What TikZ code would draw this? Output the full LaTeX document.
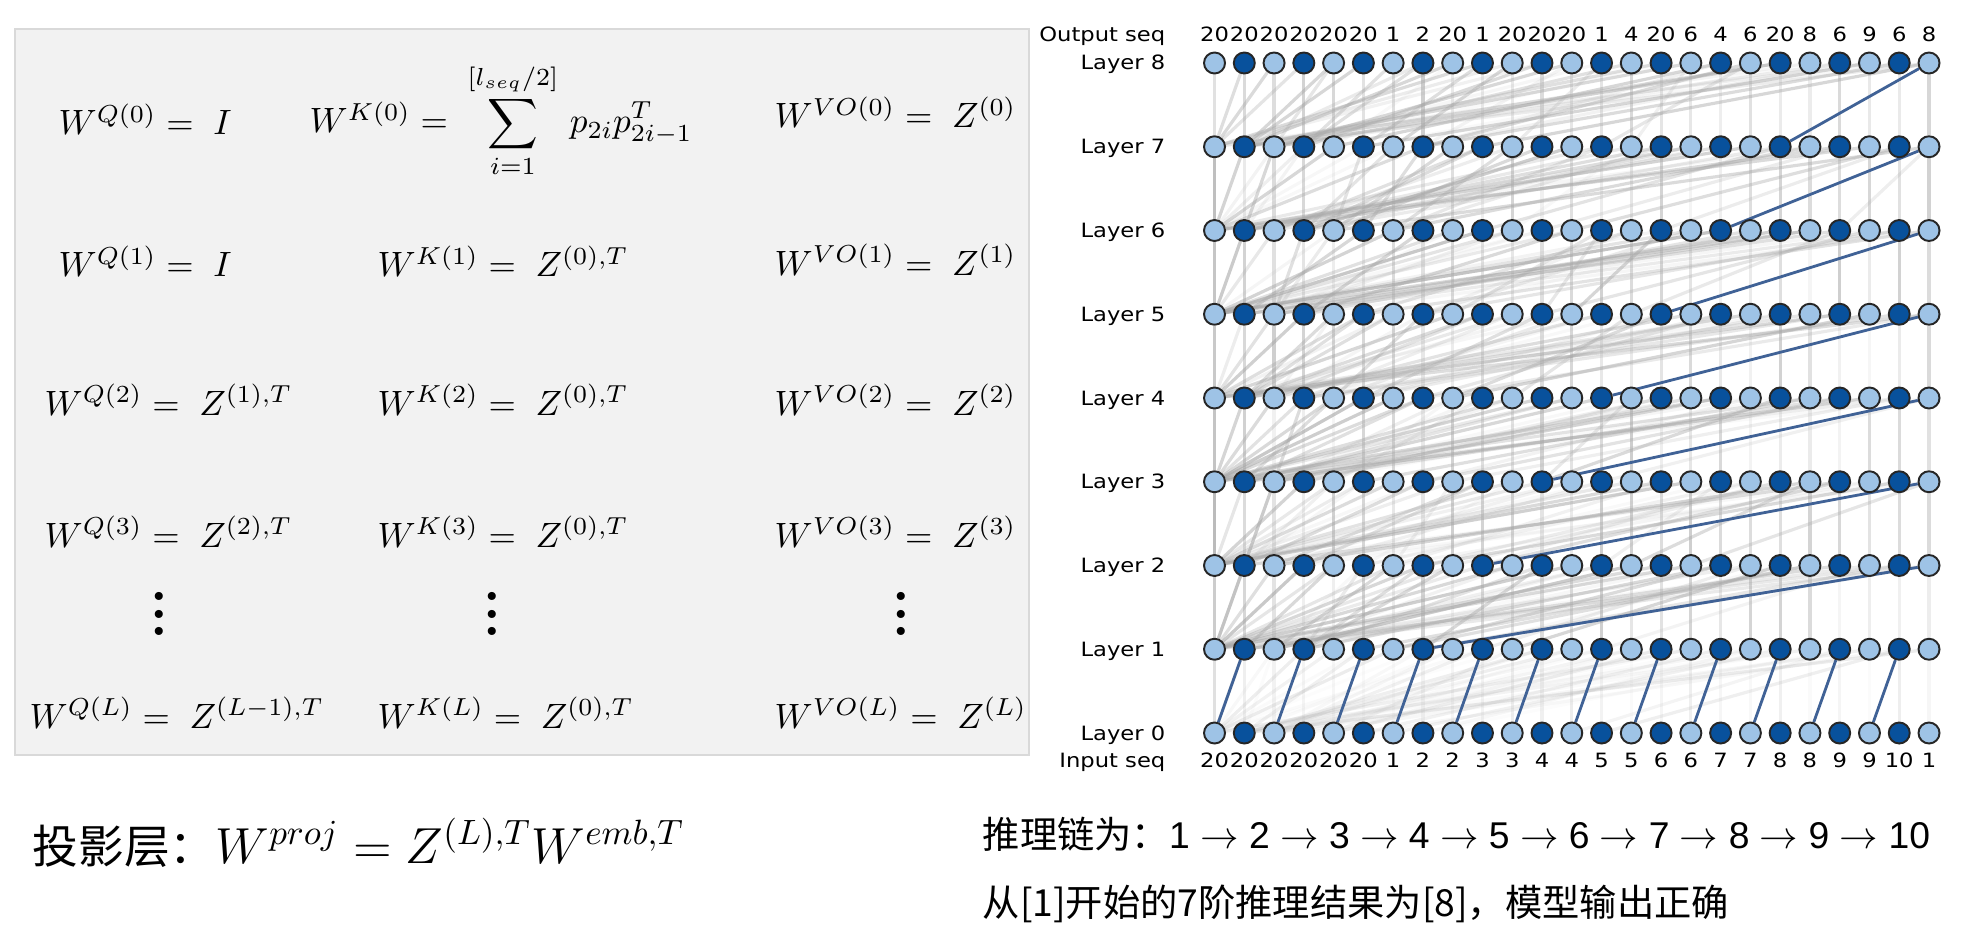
\documentclass[tikz,border=0pt]{standalone}
\usepackage{fontspec}
\newfontfamily\cjkfont{Noto Sans CJK SC}
\newfontfamily\sansfont{Liberation Sans}
\newfontfamily\mplfont[FakeStretch=1.15]{DejaVu Sans}
\definecolor{nodelight}{RGB}{158,195,230}
\definecolor{nodedark}{RGB}{8,81,156}
\definecolor{chainblue}{RGB}{64,98,150}
\definecolor{boxfill}{RGB}{242,242,242}
\definecolor{boxline}{RGB}{217,217,217}
\pgfdeclarelayer{edges}
\pgfsetlayers{edges,main}
\newcommand{\tallvdots}{\vbox{\baselineskip=5pt\lineskiplimit=0pt\hbox{.}\hbox{.}\hbox{.}}}
\newcommand{\ra}{\space$\rightarrow$\space}

\begin{document}
\begin{tikzpicture}[x=0.01cm, y=-0.01cm,
    lite/.style={circle, draw=black!85, line width=0.55pt, fill=nodelight, minimum size=2.1mm, inner sep=0pt},
    dark/.style={lite, fill=nodedark},
    attn/.style={line width=0.9pt, draw=black!35},
    chain/.style={line width=0.8pt, draw=chainblue},
    mpl/.style={font=\mplfont\fontsize{5.6}{6.7}\selectfont, inner sep=0pt},
    eq/.style={anchor=base west, inner sep=0pt, font=\fontsize{9.7}{11.6}\selectfont},
    vdotsnode/.style={inner sep=0pt, font=\bfseries\fontsize{16}{16}\selectfont},
    note/.style={anchor=base west, inner sep=0pt, font=\fontsize{10.6}{12.7}\selectfont}
  ]
  \useasboundingbox (0,0) rectangle (1980,940);
  % weight panel
  \draw[fill=boxfill, draw=boxline, line width=0.6pt] (15,29) rectangle (1029,755);
  \node[eq] (q0) at (58,135) {$W^{Q(0)} =\; I$};
  \node[eq] (k0) at (309,133) {$W^{K(0)} =\; \displaystyle\sum_{i=1}^{[l_{seq}/2]}\, p_{2i}p_{2i-1}^{T}$};
  \node[eq] (v0) at (774,128) {$W^{VO(0)} =\; Z^{(0)}$};
  \node[eq] (q1) at (58,277) {$W^{Q(1)} =\; I$};
  \node[eq] (k1) at (377,277) {$W^{K(1)} =\; Z^{(0),T}$};
  \node[eq] (v1) at (774,275) {$W^{VO(1)} =\; Z^{(1)}$};
  \node[eq] (q2) at (44,415) {$W^{Q(2)} =\; Z^{(1),T}$};
  \node[eq] (k2) at (377,415) {$W^{K(2)} =\; Z^{(0),T}$};
  \node[eq] (v2) at (774,415) {$W^{VO(2)} =\; Z^{(2)}$};
  \node[eq] (q3) at (44,547) {$W^{Q(3)} =\; Z^{(2),T}$};
  \node[eq] (k3) at (377,547) {$W^{K(3)} =\; Z^{(0),T}$};
  \node[eq] (v3) at (774,547) {$W^{VO(3)} =\; Z^{(3)}$};
  \node[vdotsnode] (qd) at (159,614) {\tallvdots};
  \node[vdotsnode] (kd) at (492,614) {\tallvdots};
  \node[vdotsnode] (vd) at (901,614) {\tallvdots};
  \node[eq] (qL) at (29,728) {$W^{Q(L)} =\; Z^{(L-1),T}$};
  \node[eq] (kL) at (377,728) {$W^{K(L)} =\; Z^{(0),T}$};
  \node[eq] (vL) at (774,728) {$W^{VO(L)} =\; Z^{(L)}$};
  % projection
  \node[anchor=base west, inner sep=0pt] (proj) at (32,863)
    {{\cjkfont\fontsize{13}{15}\selectfont 投影层：}{\fontsize{14}{16}\selectfont $W^{proj} = Z^{(L),T}W^{emb,T}$}};
  % network
  \foreach \ly in {0,...,8} {
    \foreach \ix in {0,2,...,24} \node[lite] (n\ly-\ix) at ({1214.5+29.77*\ix},{733-83.75*\ly}) {};
    \foreach \ix in {1,3,...,23} \node[dark] (n\ly-\ix) at ({1214.5+29.77*\ix},{733-83.75*\ly}) {};
    \node[mpl, anchor=base east] (lab\ly) at (1166,{740-83.75*\ly}) {Layer \ly};
  }
  \node[mpl, anchor=base east] (outlab) at (1166,42) {Output seq};
  \node[mpl, anchor=base east] (inlab) at (1166,767) {Input seq};
  \foreach \v [count=\ix from 0] in {20,20,20,20,20,20,1,2,20,1,20,20,20,1,4,20,6,4,6,20,8,6,9,6,8}
    \node[mpl, anchor=base] (out\ix) at ({1214.5+29.77*\ix},42) {\v};
  \foreach \v [count=\ix from 0] in {20,20,20,20,20,20,1,2,2,3,3,4,4,5,5,6,6,7,7,8,8,9,9,10,1}
    \node[mpl, anchor=base] (in\ix) at ({1214.5+29.77*\ix},767) {\v};
  \begin{pgfonlayer}{edges}
    \pgfmathsetseed{42}
    \foreach \ly in {0,...,7} {
      \pgfmathtruncatemacro\nx{\ly+1}
      \foreach \ix in {0,...,24} {
        \pgfmathsetmacro\op{ifthenelse(\ly>0,1,0.4)*(0.1+0.45*rnd)}
        \draw[attn, draw opacity=\op] (n\ly-\ix) -- (n\nx-\ix);
        \foreach \rr in {1,2} {
          \pgfmathtruncatemacro\src{floor(rnd*rnd*\ix)}
          \pgfmathsetmacro\op{ifthenelse(\ly>0,1,0.4)*(0.06+0.4*rnd)}
          \draw[attn, draw opacity=\op] (n\ly-\src) -- (n\nx-\ix);
        }
      }
    }
    % pair links
    \foreach \pp in {0,...,11} {
      \pgfmathtruncatemacro\aa{2*\pp}
      \pgfmathtruncatemacro\bb{2*\pp+1}
      \draw[chain] (n0-\aa) -- (n1-\bb);
    }
    % reasoning chain
    \foreach \ly/\src in {1/7,2/9,3/11,4/13,5/15,6/17,7/19} {
      \pgfmathtruncatemacro\nx{\ly+1}
      \draw[chain] (n\ly-\src) -- (n\nx-24);
    }
  \end{pgfonlayer}
  % notes
  \node[note] (chaintxt) at (982,848)
    {{\cjkfont 推理链为：}{\sansfont 1\ra 2\ra 3\ra 4\ra 5\ra 6\ra 7\ra 8\ra 9\ra 10}};
  \node[note] (result) at (982,916) {\cjkfont 从[1]开始的7阶推理结果为[8]，模型输出正确};
\end{tikzpicture}
\end{document}
